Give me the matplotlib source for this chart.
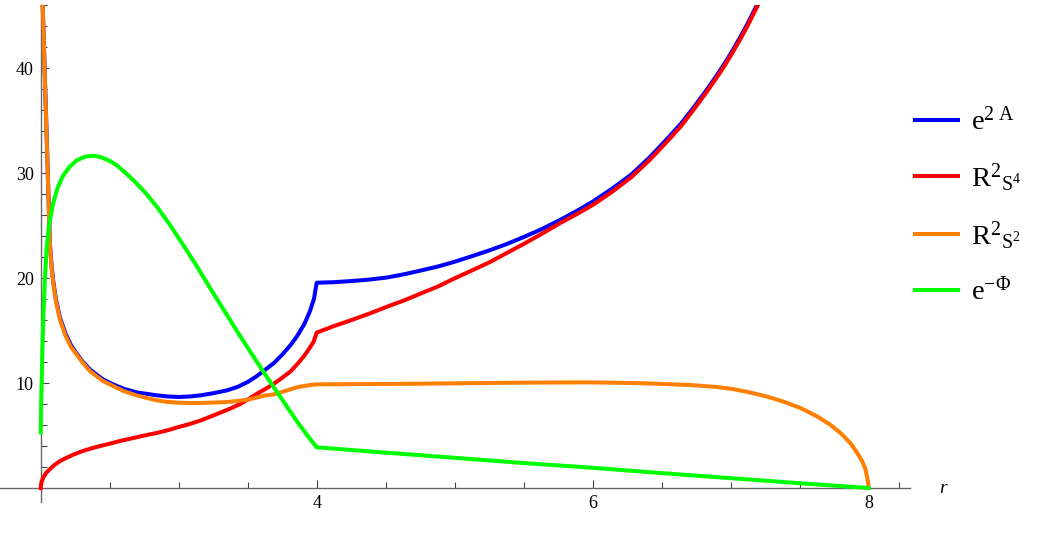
import numpy as np
import matplotlib.pyplot as plt

plt.rcParams['font.family'] = ['Liberation Serif', 'DejaVu Serif']
plt.rcParams['mathtext.fontset'] = 'custom'
plt.rcParams['mathtext.rm'] = 'Liberation Serif'
plt.rcParams['mathtext.it'] = 'Liberation Serif:italic'

# e^{2A}
r_blue = [2.0145, 2.02, 2.03, 2.04, 2.05, 2.06, 2.067, 2.08, 2.091, 2.11, 2.14, 2.18,
          2.22, 2.25, 2.30, 2.36, 2.45, 2.52, 2.60, 2.70, 2.84, 2.92, 3.0, 3.08, 3.16,
          3.25, 3.35, 3.43, 3.50, 3.56, 3.62, 3.69, 3.75, 3.81, 3.86, 3.91, 3.95, 3.98,
          4.0, 4.12, 4.24, 4.38, 4.51, 4.63, 4.75, 4.88, 5.0, 5.13, 5.26, 5.38, 5.5,
          5.63, 5.76, 5.88, 6.0, 6.14, 6.28, 6.41, 6.54, 6.64, 6.73, 6.82, 6.90, 6.96,
          7.02, 7.07, 7.12, 7.16, 7.20, 7.24]
blue = [46.0, 43.6, 39.2, 35.0, 30.7, 26.2, 23.2, 21.0, 19.7, 18.0, 16.2, 14.7,
        13.6, 13.0, 12.1, 11.25, 10.35, 9.9, 9.46, 9.1, 8.83, 8.72, 8.67, 8.72, 8.83,
        9.03, 9.3, 9.65, 10.1, 10.6, 11.2, 11.9, 12.7, 13.6, 14.5, 15.6, 16.8, 18.0,
        19.55, 19.6, 19.7, 19.85, 20.05, 20.35, 20.7, 21.1, 21.55, 22.1, 22.67, 23.25, 23.9,
        24.65, 25.5, 26.35, 27.27, 28.5, 29.85, 31.45, 33.25, 34.7, 36.2, 37.8, 39.3, 40.5,
        41.8, 42.95, 44.15, 45.2, 46.25, 47.4]

# R^2 S^4
r_red = [2.0, 2.005, 2.02, 2.04, 2.07, 2.10, 2.14, 2.19, 2.24, 2.30, 2.36, 2.43, 2.5,
         2.58, 2.67, 2.75, 2.84, 2.92, 3.0, 3.08, 3.16, 3.23, 3.30, 3.38, 3.45, 3.51,
         3.57, 3.63, 3.69, 3.75, 3.81, 3.86, 3.91, 3.95, 3.98,
         4.0, 4.12, 4.24, 4.38, 4.51, 4.63, 4.75, 4.88, 5.0, 5.13, 5.26, 5.38, 5.5,
         5.63, 5.76, 5.88, 6.0, 6.14, 6.28, 6.41, 6.54, 6.64, 6.73, 6.82, 6.90, 6.96,
         7.02, 7.07, 7.12, 7.16, 7.20, 7.24]
red = [0.0, 0.55, 1.05, 1.45, 1.84, 2.2, 2.57, 2.9, 3.2, 3.5, 3.75, 4.0, 4.22,
       4.5, 4.76, 5.0, 5.24, 5.5, 5.81, 6.1, 6.44, 6.8, 7.17, 7.6, 8.03, 8.5,
       9.0, 9.45, 9.94, 10.5, 11.1, 11.8, 12.6, 13.35, 14.0,
       14.8, 15.4, 15.94, 16.6, 17.27, 17.85, 18.5, 19.2, 19.97, 20.75, 21.55, 22.4, 23.24,
       24.2, 25.2, 26.05, 26.95, 28.2, 29.6, 31.2, 33.0, 34.45, 36.0, 37.6, 39.1, 40.3,
       41.6, 42.75, 43.95, 45.0, 46.05, 47.2]

# R^2 S^2
r_orange = [2.0145, 2.02, 2.03, 2.04, 2.05, 2.06, 2.067, 2.08, 2.091, 2.11, 2.14, 2.18,
            2.22, 2.25, 2.30, 2.36, 2.45, 2.52, 2.60, 2.70, 2.84, 2.92, 3.0, 3.08, 3.16,
            3.25, 3.35, 3.43, 3.50, 3.56, 3.62, 3.69, 3.75, 3.81, 3.86, 3.91, 3.95, 3.98,
            4.0, 4.3, 4.6, 5.0, 5.33, 5.7, 6.0, 6.3, 6.54, 6.72, 6.90, 7.02, 7.14, 7.26,
            7.385, 7.51, 7.63, 7.72, 7.80, 7.87, 7.92, 7.955, 7.977, 7.99, 7.997, 8.0]
orange = [46.0, 43.5, 39.0, 34.8, 30.5, 26.0, 23.0, 20.8, 19.5, 17.8, 16.0, 14.5,
          13.4, 12.9, 12.0, 11.1, 10.2, 9.75, 9.24, 8.8, 8.35, 8.2, 8.13, 8.1, 8.1,
          8.14, 8.19, 8.3, 8.41, 8.6, 8.8, 8.92, 9.15, 9.4, 9.6, 9.72, 9.8, 9.85,
          9.87, 9.9, 9.92, 9.97, 10.02, 10.05, 10.06, 10.0, 9.9, 9.8, 9.62, 9.42, 9.1, 8.72,
          8.22, 7.6, 6.8, 6.05, 5.2, 4.25, 3.3, 2.5, 1.8, 1.0, 0.4, 0.0]

# e^{-Phi}
r_green = [2.0, 2.003, 2.007, 2.012, 2.019, 2.03, 2.043, 2.06, 2.09, 2.12, 2.16, 2.21,
           2.26, 2.32, 2.38, 2.44, 2.50, 2.55, 2.62, 2.70, 2.77, 2.85, 2.94, 3.03, 3.13,
           3.22, 3.32, 3.42, 3.52, 3.62, 3.72, 3.80, 3.86, 3.93, 4.0,
           4.5, 5.0, 5.5, 6.0, 6.5, 7.0, 7.5, 8.0]
green = [5.3, 8.0, 10.0, 13.0, 16.3, 19.8, 22.8, 25.0, 27.1, 28.5, 29.7, 30.6,
         31.2, 31.55, 31.65, 31.5, 31.15, 30.75, 29.95, 28.95, 27.95, 26.65, 25.0, 23.2, 21.15,
         19.2, 17.1, 15.0, 12.95, 10.95, 9.0, 7.45, 6.3, 5.05, 3.88,
         3.37, 2.88, 2.38, 1.93, 1.42, 0.94, 0.46, 0.0]

labels = [r'$\mathrm{e}^{2\ \mathrm{A}}$', r'$\mathrm{R}^{2}{}_{\mathrm{S}^{4}}$',
          r'$\mathrm{R}^{2}{}_{\mathrm{S}^{2}}$', r'$\mathrm{e}^{-\Phi}$']

x_major = [2, 4, 6, 8]
x_labels = ['', '4', '6', '8']
x_minor = [2.5, 3, 3.5, 4.5, 5, 5.5, 6.5, 7, 7.5, 8.22]
y_major = [10, 20, 30, 40]
y_minor = [v for v in range(2, 47, 2) if v % 10]

fig = plt.figure(figsize=(10.42, 5.38), dpi=100)
ax = fig.add_axes([0, 36 / 538, 910 / 1042, 497 / 538])

lw = 2.9
ax.plot(r_blue, blue, color='#0000ff', lw=lw, label=labels[0], zorder=3)
ax.plot(r_red, red, color='#ff0000', lw=lw, label=labels[1], zorder=3)
ax.plot(r_orange, orange, color='#ff8000', lw=lw, label=labels[2], zorder=3)
ax.plot(r_green, green, color='#00ff00', lw=lw, label=labels[3], zorder=3)

ax.set_xlim(1.705, 8.30)
ax.set_ylim(-1.33, 46.0)

for side in ['top', 'right']:
    ax.spines[side].set_visible(False)
ax.spines['left'].set_position(('data', 2))
ax.spines['bottom'].set_position(('data', 0))
for side in ['left', 'bottom']:
    ax.spines[side].set_color('#666666')
    ax.spines[side].set_linewidth(1.0)

ax.set_xticks(x_major)
ax.set_xticklabels(x_labels)
ax.set_xticks(x_minor, minor=True)
ax.set_yticks(y_major)
ax.set_yticks(y_minor, minor=True)
ax.tick_params(which='both', direction='in', color='#444444', width=0.8, labelsize=13)
ax.tick_params(which='major', length=6)
ax.tick_params(which='minor', length=4)
ax.tick_params(axis='x', pad=5)
ax.tick_params(axis='y', pad=5)

ax.annotate('r', xy=(1, 0), xycoords=('axes fraction', 'data'), xytext=(24, 0),
            textcoords='offset points', ha='center', va='center', style='italic', fontsize=14)

ax.legend(loc='upper left', bbox_to_anchor=(915 / 1042, 1 - 107 / 538),
          bbox_transform=fig.transFigure, frameon=False, fontsize=20.5,
          borderpad=0, borderaxespad=0, handlelength=1.5, handletextpad=0.45,
          labelspacing=0.9)

fig.savefig('out.png', dpi=100)
